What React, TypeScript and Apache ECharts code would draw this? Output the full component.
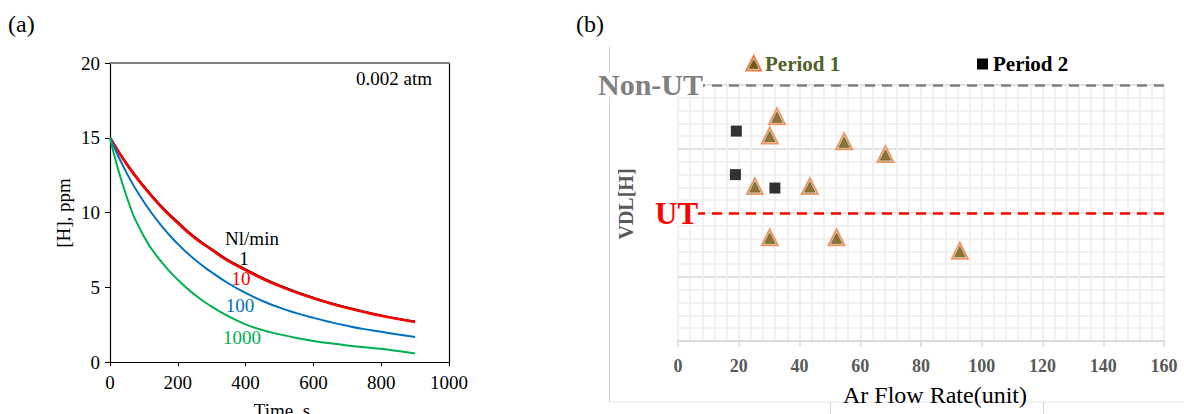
import React, { useEffect, useRef } from "react";
import * as echarts from "echarts";

// ---------- Panel (a) data ----------
const times = [0, 50, 100, 150, 200, 250, 300, 350, 400, 450, 500, 550, 600, 650, 700, 750, 800, 850, 900];
const flow1 = [15, 13.25, 11.76, 10.46, 9.36, 8.36, 7.55, 6.8, 6.2, 5.62, 5.12, 4.68, 4.3, 3.95, 3.64, 3.37, 3.12, 2.9, 2.71];
const flow10 = [15, 13.2, 11.7, 10.4, 9.3, 8.3, 7.5, 6.75, 6.15, 5.57, 5.08, 4.64, 4.27, 3.92, 3.61, 3.34, 3.09, 2.87, 2.68];
const flow100 = [15, 12.6, 10.7, 9.15, 7.9, 6.85, 6.0, 5.25, 4.62, 4.08, 3.64, 3.27, 2.95, 2.67, 2.42, 2.2, 2.02, 1.84, 1.67];
const flow1000 = [15, 11.0, 8.4, 6.75, 5.5, 4.5, 3.7, 3.05, 2.52, 2.13, 1.85, 1.61, 1.41, 1.25, 1.11, 0.99, 0.88, 0.73, 0.57];

// ---------- Panel (b) data ----------
const period1X = [32.6, 30.2, 54.7, 68.3, 25.3, 43.4, 30.2, 52.2, 92.8];
const period1Y = [3.51, 3.21, 3.12, 2.92, 2.42, 2.42, 1.62, 1.62, 1.41];
const period2X = [19.2, 18.9, 31.9];
const period2Y = [3.28, 2.6, 2.39];
const nonUTLevel = 4;
const utLevel = 2;

const SERIF = '"Liberation Serif", "Times New Roman", serif';

const pairs = (xs: number[], ys: number[]) => xs.map((x, i) => [x, ys[i]]);

function buildOption(): any {
  const txt = (text: string, x: number, y: number, font: string, fill: string, align = "left", extra: any = {}) => ({
    type: "text",
    x,
    y,
    z: 100,
    ...extra,
    style: { text, font, fill, align, verticalAlign: "middle", ...(extra.style || {}) },
  });

  return {
    animation: false,
    backgroundColor: "#ffffff",
    grid: [
      { left: 110, top: 63, width: 339, height: 299, containLabel: false },
      { left: 678, top: 85, width: 486, height: 256, containLabel: false },
    ],
    xAxis: [
      {
        gridIndex: 0,
        type: "value",
        min: 0,
        max: 1000,
        interval: 200,
        axisLine: { show: true, onZero: false, lineStyle: { color: "#000", width: 1.2 } },
        axisTick: { show: true, inside: false, length: 4, lineStyle: { color: "#000" } },
        axisLabel: { color: "#000", fontFamily: SERIF, fontSize: 19, margin: 11, formatter: (v: number) => String(v) },
        splitLine: { show: false },
      },
      {
        gridIndex: 0,
        type: "value",
        position: "top",
        min: 0,
        max: 1000,
        axisLine: { show: true, onZero: false, lineStyle: { color: "#808080", width: 2 } },
        axisTick: { show: false },
        axisLabel: { show: false },
        splitLine: { show: false },
      },
      {
        gridIndex: 1,
        type: "value",
        min: 0,
        max: 160,
        interval: 20,
        axisLine: { show: true, onZero: false, lineStyle: { color: "#D9D9D9", width: 1.5 } },
        axisTick: { show: true, length: 6, lineStyle: { color: "#D9D9D9", width: 1.5 } },
        axisLabel: { color: "#595959", fontFamily: SERIF, fontWeight: "bold", fontSize: 18, margin: 16 },
        splitLine: { show: true, lineStyle: { color: "#EBEBEB", width: 1.5 } },
        minorTick: { show: false, splitNumber: 5 },
        minorSplitLine: { show: true, lineStyle: { color: "#EDEDED", width: 1.5 } },
      },
    ],
    yAxis: [
      {
        gridIndex: 0,
        type: "value",
        min: 0,
        max: 20,
        interval: 5,
        axisLine: { show: true, onZero: false, lineStyle: { color: "#000", width: 1.2 } },
        axisTick: { show: true, inside: false, length: 5, lineStyle: { color: "#000" } },
        axisLabel: { color: "#000", fontFamily: SERIF, fontSize: 19, margin: 10 },
        splitLine: { show: false },
      },
      {
        gridIndex: 0,
        type: "value",
        position: "right",
        min: 0,
        max: 20,
        axisLine: { show: true, onZero: false, lineStyle: { color: "#000", width: 1.2 } },
        axisTick: { show: false },
        axisLabel: { show: false },
        splitLine: { show: false },
      },
      {
        gridIndex: 1,
        type: "value",
        min: 0,
        max: 4,
        interval: 1,
        axisLine: { show: false },
        axisTick: { show: false },
        axisLabel: { show: false },
        splitLine: { show: true, lineStyle: { color: "#D9D9D9", width: 1.5 } },
        minorTick: { show: false, splitNumber: 5 },
        minorSplitLine: { show: true, lineStyle: { color: "#EDEDED", width: 1.5 } },
      },
    ],
    series: [
      {
        name: "1",
        type: "line",
        xAxisIndex: 0,
        yAxisIndex: 0,
        smooth: true,
        showSymbol: false,
        data: pairs(times, flow1),
        lineStyle: { color: "#000", width: 2 },
        z: 2,
      },
      {
        name: "10",
        type: "line",
        xAxisIndex: 0,
        yAxisIndex: 0,
        smooth: true,
        showSymbol: false,
        data: pairs(times, flow10),
        lineStyle: { color: "#FF0000", width: 2.6 },
        z: 3,
      },
      {
        name: "100",
        type: "line",
        xAxisIndex: 0,
        yAxisIndex: 0,
        smooth: true,
        showSymbol: false,
        data: pairs(times, flow100),
        lineStyle: { color: "#0070C0", width: 2 },
        z: 3,
      },
      {
        name: "1000",
        type: "line",
        xAxisIndex: 0,
        yAxisIndex: 0,
        smooth: true,
        showSymbol: false,
        data: pairs(times, flow1000),
        lineStyle: { color: "#00B050", width: 2 },
        z: 3,
      },
      {
        name: "Period 1",
        type: "scatter",
        xAxisIndex: 2,
        yAxisIndex: 2,
        symbol: "triangle",
        symbolSize: 16,
        data: pairs(period1X, period1Y),
        itemStyle: { color: "#F7DCC8", borderColor: "#E5844A", borderWidth: 2 },
        z: 5,
        markLine: {
          silent: true,
          symbol: ["none", "none"],
          label: { show: false },
          data: [
            { yAxis: nonUTLevel, lineStyle: { color: "#808080", width: 2.5, type: [10, 7] } },
            { yAxis: utLevel, lineStyle: { color: "#FF0000", width: 2.5, type: [10, 7] } },
          ],
        },
      },
      {
        name: "Period 1 core",
        type: "scatter",
        xAxisIndex: 2,
        yAxisIndex: 2,
        symbol: "triangle",
        symbolSize: 10,
        symbolOffset: [0, 1],
        data: pairs(period1X, period1Y),
        itemStyle: { color: "#7A5312", borderColor: "#4E6B2E", borderWidth: 1 },
        z: 6,
      },
      {
        name: "Period 2",
        type: "scatter",
        xAxisIndex: 2,
        yAxisIndex: 2,
        symbol: "rect",
        symbolSize: 11,
        data: pairs(period2X, period2Y),
        itemStyle: { color: "#000" },
        z: 6,
      },
    ],
    graphic: [
      // panel labels
      txt("(a)", 8, 24, `24px ${SERIF}`, "#000"),
      txt("(b)", 576, 24, `24px ${SERIF}`, "#000"),
      // panel (a) texts
      txt("0.002 atm", 394, 78, `19px ${SERIF}`, "#000", "center"),
      txt("Nl/min", 252, 238, `19px ${SERIF}`, "#000", "center"),
      txt("1", 244, 258, `19px ${SERIF}`, "#000", "center"),
      txt("10", 241, 278, `19px ${SERIF}`, "#FF0000", "center"),
      txt("100", 240, 305, `19px ${SERIF}`, "#0070C0", "center"),
      txt("1000", 242, 337.5, `19px ${SERIF}`, "#00B050", "center"),
      txt("[H], ppm", 63, 213, `19px ${SERIF}`, "#000", "center", { rotation: Math.PI / 2 }),
      txt("Time, s", 282, 410, `19px ${SERIF}`, "#000", "center"),
      // panel (b) frame lines
      { type: "line", z: 1, shape: { x1: 609.5, y1: 47, x2: 609.5, y2: 402 }, style: { stroke: "#D0D0D0", lineWidth: 1 } },
      { type: "line", z: 1, shape: { x1: 609.5, y1: 402, x2: 1184, y2: 402 }, style: { stroke: "#E6E6E6", lineWidth: 1 } },
      { type: "line", z: 1, shape: { x1: 830.5, y1: 402, x2: 830.5, y2: 414 }, style: { stroke: "#D6D6D6", lineWidth: 1 } },
      { type: "line", z: 1, shape: { x1: 1043.5, y1: 402, x2: 1043.5, y2: 414 }, style: { stroke: "#D6D6D6", lineWidth: 1 } },
      // threshold labels
      txt("Non-UT", 598, 84.5, `bold 30px ${SERIF}`, "#808080", "left", {
        style: { backgroundColor: "#ffffff", lineHeight: 24 },
      }),
      txt("UT", 655, 213, `bold 31px ${SERIF}`, "#FF0000", "left", {
        style: { backgroundColor: "#ffffff", lineHeight: 24 },
      }),
      txt("VDL[H]", 626, 204, `bold 20px ${SERIF}`, "#595959", "center", { rotation: Math.PI / 2 }),
      txt("Ar Flow Rate(unit)", 935, 395, `24px ${SERIF}`, "#000", "center"),
      // legend
      {
        type: "polygon",
        z: 100,
        shape: { points: [[753.7, 56], [746.3, 70.5], [761.1, 70.5]] },
        style: { fill: "#F7DCC8", stroke: "#E5844A", lineWidth: 2 },
      },
      {
        type: "polygon",
        z: 101,
        shape: { points: [[753.7, 60], [749.4, 68.3], [758, 68.3]] },
        style: { fill: "#7A5312", stroke: "#4E6B2E", lineWidth: 1 },
      },
      txt("Period 1", 765, 63.5, `bold 21px ${SERIF}`, "#4F6228"),
      { type: "rect", z: 100, shape: { x: 977, y: 58.5, width: 11, height: 11 }, style: { fill: "#000" } },
      txt("Period 2", 993, 63.5, `bold 21px ${SERIF}`, "#000"),
    ],
  };
}

export default function App() {
  const ref = useRef<HTMLDivElement>(null);
  useEffect(() => {
    if (!ref.current) return;
    const chart = echarts.init(ref.current, null, { renderer: "svg" });
    chart.setOption(buildOption());
    return () => {
      chart.dispose();
    };
  }, []);
  return (
    <div
      ref={ref}
      style={{ position: "absolute", left: 0, top: 0, width: 1184, height: 414, background: "#fff" }}
    />
  );
}
